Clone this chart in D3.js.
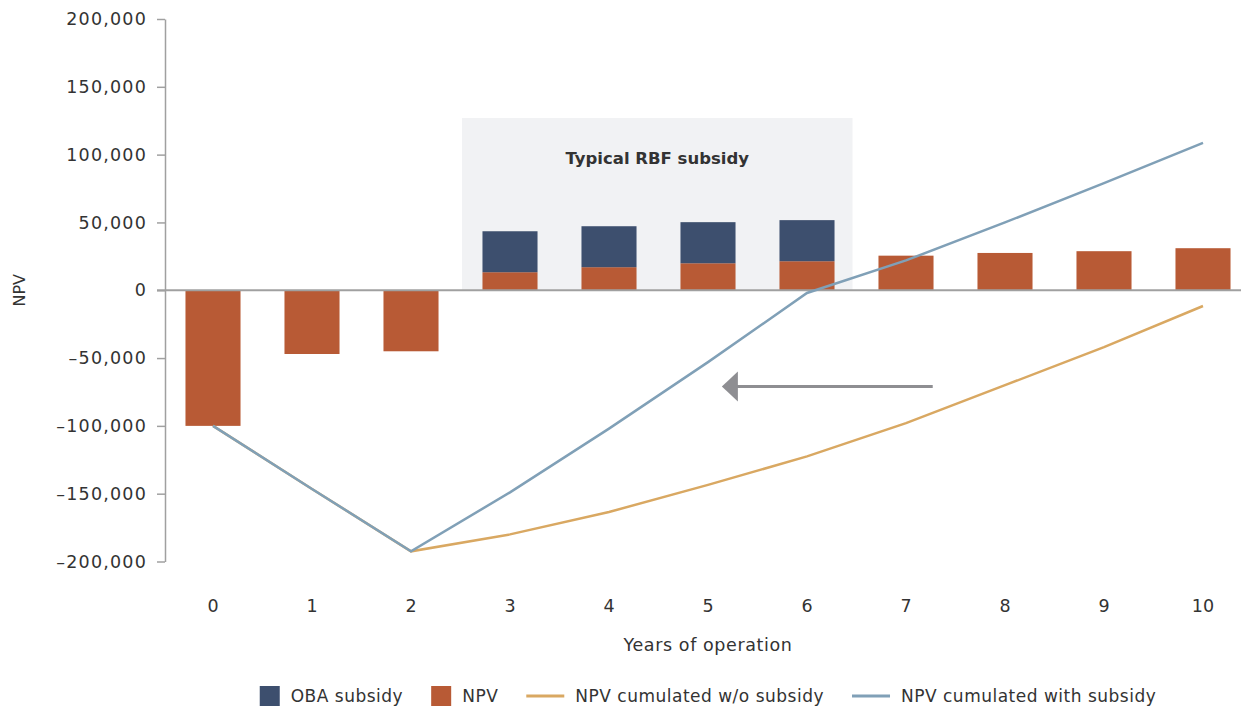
<!DOCTYPE html>
<html>
<head>
<meta charset="utf-8">
<script src="https://cdn.jsdelivr.net/npm/d3@7"></script>
<style>
  body { margin: 0; background: #fff; }
  text { font-family: "DejaVu Sans", sans-serif; fill: #333; }
</style>
</head>
<body>
<div id="chart"></div>
<script>
// Data
const years = ["0", "1", "2", "3", "4", "5", "6", "7", "8", "9", "10"];
const npv = [-100000, -47000, -45000, 13300, 17000, 19900, 21400, 25500, 27500, 28800, 31000];
const obaSubsidy = [0, 0, 0, 30200, 30200, 30300, 30300, 0, 0, 0, 0];
const cumWithout = [-100000, -146500, -192500, -180000, -163500, -143500, -122500, -98000, -70000, -42000, -11600];
const cumWith = [-100000, -146500, -192500, -149000, -102000, -53000, -2000, 22000, 50000, 79000, 108700];
const yTicks = [-200000, -150000, -100000, -50000, 0, 50000, 100000, 150000, 200000];
const subsidyYears = ["3", "6"];
const subsidyTop = 127000;
const arrowFrom = { x: 7.27, y: -71000 };
const arrowTo = { x: 5.14, y: -71000 };

const width = 1241, height = 707;
const colors = {
    oba: "#3d4f6e",
    npv: "#b85a35",
    without: "#d9a862",
    with: "#80a0b7",
    axis: "#a0a0a0"
};

const svg = d3.select("#chart").append("svg")
    .attr("width", width)
    .attr("height", height);

// Scales
const x = d3.scaleBand()
    .domain(years)
    .range([163.5, 1252.5])
    .paddingInner(0.444)
    .paddingOuter(0.222);

const y = d3.scaleLinear()
    .domain([-200000, 200000])
    .range([561.5, 19]);

const cx = i => x(years[i]) + x.bandwidth() / 2;
// fractional position along the year axis (for annotations)
const fx = v => x(years[0]) + x.bandwidth() / 2 + v * x.step();

// Shaded "typical RBF subsidy" zone
const zoneLeft = x(subsidyYears[0]) - 20.5;
const zoneRight = x(subsidyYears[1]) + x.bandwidth() + 18;
svg.append("rect")
    .attr("x", zoneLeft)
    .attr("y", y(subsidyTop))
    .attr("width", zoneRight - zoneLeft)
    .attr("height", y(0) - y(subsidyTop))
    .attr("fill", "#f1f2f4");

svg.append("text")
    .attr("x", (zoneLeft + zoneRight) / 2)
    .attr("y", y(subsidyTop) + 46)
    .attr("text-anchor", "middle")
    .style("font-size", "16.5px")
    .style("font-weight", "bold")
    .text("Typical RBF subsidy");

// Y axis
const yAxis = svg.append("g")
    .attr("transform", "translate(165,0)")
    .call(d3.axisLeft(y)
        .tickValues(yTicks)
        .tickSize(8)
        .tickSizeOuter(0)
        .tickPadding(10)
        .tickFormat(d => d3.format(",")(d).replace("−", "–")));
yAxis.select(".domain").attr("stroke", colors.axis).attr("stroke-width", 1.5);
yAxis.selectAll(".tick line").attr("stroke", colors.axis).attr("stroke-width", 1.5);
yAxis.selectAll(".tick text")
    .style("font-size", "17.5px")
    .style("letter-spacing", "1.2px")
    .attr("fill", "#333");

// Bars: NPV
svg.append("g").selectAll("rect")
    .data(npv)
    .join("rect")
    .attr("x", (d, i) => x(years[i]))
    .attr("y", d => y(Math.max(0, d)))
    .attr("width", x.bandwidth())
    .attr("height", d => Math.abs(y(d) - y(0)))
    .attr("fill", colors.npv);

// Bars: OBA subsidy stacked on top of NPV
const obaData = obaSubsidy
    .map((v, i) => ({ year: years[i], base: npv[i], value: v }))
    .filter(d => d.value > 0);
svg.append("g").selectAll("rect")
    .data(obaData)
    .join("rect")
    .attr("x", d => x(d.year))
    .attr("y", d => y(d.base + d.value))
    .attr("width", x.bandwidth())
    .attr("height", d => y(d.base) - y(d.base + d.value))
    .attr("fill", colors.oba);

// Zero line
svg.append("line")
    .attr("x1", 157)
    .attr("x2", width)
    .attr("y1", y(0))
    .attr("y2", y(0))
    .attr("stroke", colors.axis)
    .attr("stroke-width", 2);

// Lines
const line = d3.line()
    .x((d, i) => cx(i))
    .y(d => y(d));

svg.append("path")
    .datum(cumWithout)
    .attr("d", line)
    .attr("fill", "none")
    .attr("stroke", colors.without)
    .attr("stroke-width", 2.5);

svg.append("path")
    .datum(cumWith)
    .attr("d", line)
    .attr("fill", "none")
    .attr("stroke", colors.with)
    .attr("stroke-width", 2.5);

// Arrow annotation
const ax1 = fx(arrowFrom.x), ax2 = fx(arrowTo.x), ay = y(arrowFrom.y);
svg.append("line")
    .attr("x1", ax1)
    .attr("x2", ax2 + 12)
    .attr("y1", ay)
    .attr("y2", ay)
    .attr("stroke", "#8e8e92")
    .attr("stroke-width", 3);
svg.append("path")
    .attr("d", `M${ax2},${ay} L${ax2 + 16},${ay - 15} L${ax2 + 16},${ay + 15} Z`)
    .attr("fill", "#8e8e92");

// X axis labels
svg.append("g").selectAll("text")
    .data(years)
    .join("text")
    .attr("x", (d, i) => cx(i))
    .attr("y", 612)
    .attr("text-anchor", "middle")
    .style("font-size", "17.5px")
    .text(d => d);

svg.append("text")
    .attr("x", cx(5))
    .attr("y", 651)
    .attr("text-anchor", "middle")
    .style("font-size", "17.5px")
    .style("letter-spacing", "0.6px")
    .text("Years of operation");

svg.append("text")
    .attr("transform", `translate(25,${y(0)}) rotate(-90)`)
    .attr("text-anchor", "middle")
    .style("font-size", "16px")
    .text("NPV");

// Legend
const legendItems = [
    { label: "OBA subsidy", type: "rect", color: colors.oba },
    { label: "NPV", type: "rect", color: colors.npv },
    { label: "NPV cumulated w/o subsidy", type: "line", color: colors.without },
    { label: "NPV cumulated with subsidy", type: "line", color: colors.with }
];
const legend = svg.append("g");
let lx = 0;
const ly = 696;
legendItems.forEach(item => {
    const g = legend.append("g").attr("transform", `translate(${lx},0)`);
    let sw;
    if (item.type === "rect") {
        g.append("rect").attr("x", 0).attr("y", ly - 10).attr("width", 20).attr("height", 20).attr("fill", item.color);
        sw = 20;
    } else {
        g.append("line").attr("x1", 0).attr("x2", 38).attr("y1", ly).attr("y2", ly)
            .attr("stroke", item.color).attr("stroke-width", 3);
        sw = 38;
    }
    const t = g.append("text")
        .attr("x", sw + 11)
        .attr("y", ly + 6)
        .style("font-size", "17px")
        .style("letter-spacing", "0.5px")
        .text(item.label);
    lx += sw + 11 + t.node().getComputedTextLength() + 28;
});
const legendWidth = lx - 28;
legend.attr("transform", `translate(${cx(5) - legendWidth / 2},0)`);
</script>
</body>
</html>
